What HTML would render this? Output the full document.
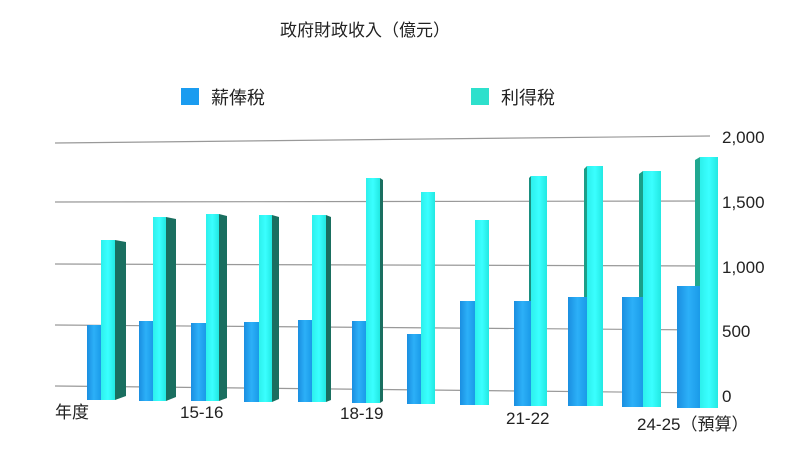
<!DOCTYPE html>
<html><head><meta charset="utf-8"><style>
body{margin:0;background:#fff;}
svg{display:block;font-family:"Liberation Sans","Noto Sans CJK TC",sans-serif;}
</style></head><body>
<svg width="800" height="451" viewBox="0 0 800 451" xmlns="http://www.w3.org/2000/svg">
<defs>
<linearGradient id="bl" x1="0" x2="1" y1="0" y2="0"><stop offset="0" stop-color="#1a8ee0"/><stop offset="0.5" stop-color="#2cb0f8"/><stop offset="1" stop-color="#1a9ae8"/></linearGradient>
<linearGradient id="cy" x1="0" x2="1" y1="0" y2="0"><stop offset="0" stop-color="#2df0ec"/><stop offset="0.5" stop-color="#3affff"/><stop offset="1" stop-color="#22e8e2"/></linearGradient>
</defs>
<text x="365" y="36" font-size="17" text-anchor="middle" fill="#222">政府財政收入（億元）</text>
<rect x="181" y="88" width="18" height="17" fill="#1a9cf0"/>
<text x="211" y="104" font-size="18" fill="#222">薪俸稅</text>
<rect x="471" y="88" width="18" height="17" fill="#2ee0cc"/>
<text x="501" y="104" font-size="18" fill="#222">利得稅</text>
<g stroke="#999" stroke-width="1.2">
<line x1="55" y1="143" x2="710" y2="136"/>
<line x1="55" y1="202" x2="710" y2="201"/>
<line x1="55" y1="264" x2="710" y2="266"/>
<line x1="55" y1="325" x2="710" y2="330"/>
<line x1="55" y1="386" x2="710" y2="393"/>
</g>
<g font-size="17" fill="#222">
<text x="722" y="143">2,000</text>
<text x="722" y="208">1,500</text>
<text x="722" y="273">1,000</text>
<text x="722" y="337">500</text>
<text x="722" y="402">0</text>
<text x="55" y="418">年度</text>
<text x="180" y="418">15-16</text>
<text x="340" y="419">18-19</text>
<text x="506" y="424">21-22</text>
<text x="637" y="430">24-25（預算）</text>
</g>
<g>
<!-- 1 -->
<polygon points="115,240 126,242 126,396 115,400" fill="#1a6f60"/>
<rect x="87" y="325" width="14" height="75" fill="url(#bl)"/>
<rect x="101" y="240" width="14" height="160" fill="url(#cy)"/>
<!-- 2 -->
<polygon points="166,217 176,219 176,397 166,401" fill="#1a6f60"/>
<rect x="139" y="321" width="14" height="80" fill="url(#bl)"/>
<rect x="153" y="217" width="13" height="184" fill="url(#cy)"/>
<!-- 3 -->
<polygon points="219,214 227,216 227,398 219,401" fill="#1a6f60"/>
<rect x="191" y="323" width="15" height="78" fill="url(#bl)"/>
<rect x="206" y="214" width="13" height="187" fill="url(#cy)"/>
<!-- 4 -->
<polygon points="272,215 279,217 279,399 272,402" fill="#1a6f60"/>
<rect x="244" y="322" width="15" height="80" fill="url(#bl)"/>
<rect x="259" y="215" width="13" height="187" fill="url(#cy)"/>
<!-- 5 -->
<polygon points="326,215 331,217 331,400 326,402" fill="#1a6f60"/>
<rect x="298" y="320" width="14" height="82" fill="url(#bl)"/>
<rect x="312" y="215" width="14" height="187" fill="url(#cy)"/>
<!-- 6 -->
<polygon points="380,178 383,180 383,401 380,403" fill="#1a6f60"/>
<rect x="352" y="321" width="14" height="82" fill="url(#bl)"/>
<rect x="366" y="178" width="14" height="225" fill="url(#cy)"/>
<!-- 7 -->
<rect x="407" y="334" width="14" height="70" fill="url(#bl)"/>
<rect x="421" y="192" width="14" height="212" fill="url(#cy)"/>
<!-- 8 -->
<rect x="460" y="301" width="15" height="104" fill="url(#bl)"/>
<rect x="475" y="220" width="14" height="185" fill="url(#cy)"/>
<!-- 9 -->
<polygon points="529,178 531,176 531,301 529,301" fill="#1a8f80"/>
<rect x="514" y="301" width="17" height="105" fill="url(#bl)"/>
<rect x="531" y="176" width="16" height="230" fill="url(#cy)"/>
<!-- 10 -->
<polygon points="584,169 587,166 587,297 584,297" fill="#1a9f88"/>
<rect x="568" y="297" width="19" height="109" fill="url(#bl)"/>
<rect x="587" y="166" width="16" height="240" fill="url(#cy)"/>
<!-- 11 -->
<polygon points="639,174 643,171 643,297 639,297" fill="#1a9f88"/>
<rect x="622" y="297" width="21" height="110" fill="url(#bl)"/>
<rect x="643" y="171" width="18" height="236" fill="url(#cy)"/>
<!-- 12 -->
<polygon points="695,160 700,157 700,286 695,286" fill="#20a890"/>
<rect x="677" y="286" width="23" height="122" fill="url(#bl)"/>
<rect x="700" y="157" width="18" height="251" fill="url(#cy)"/>
</g>
</svg>
</body></html>
